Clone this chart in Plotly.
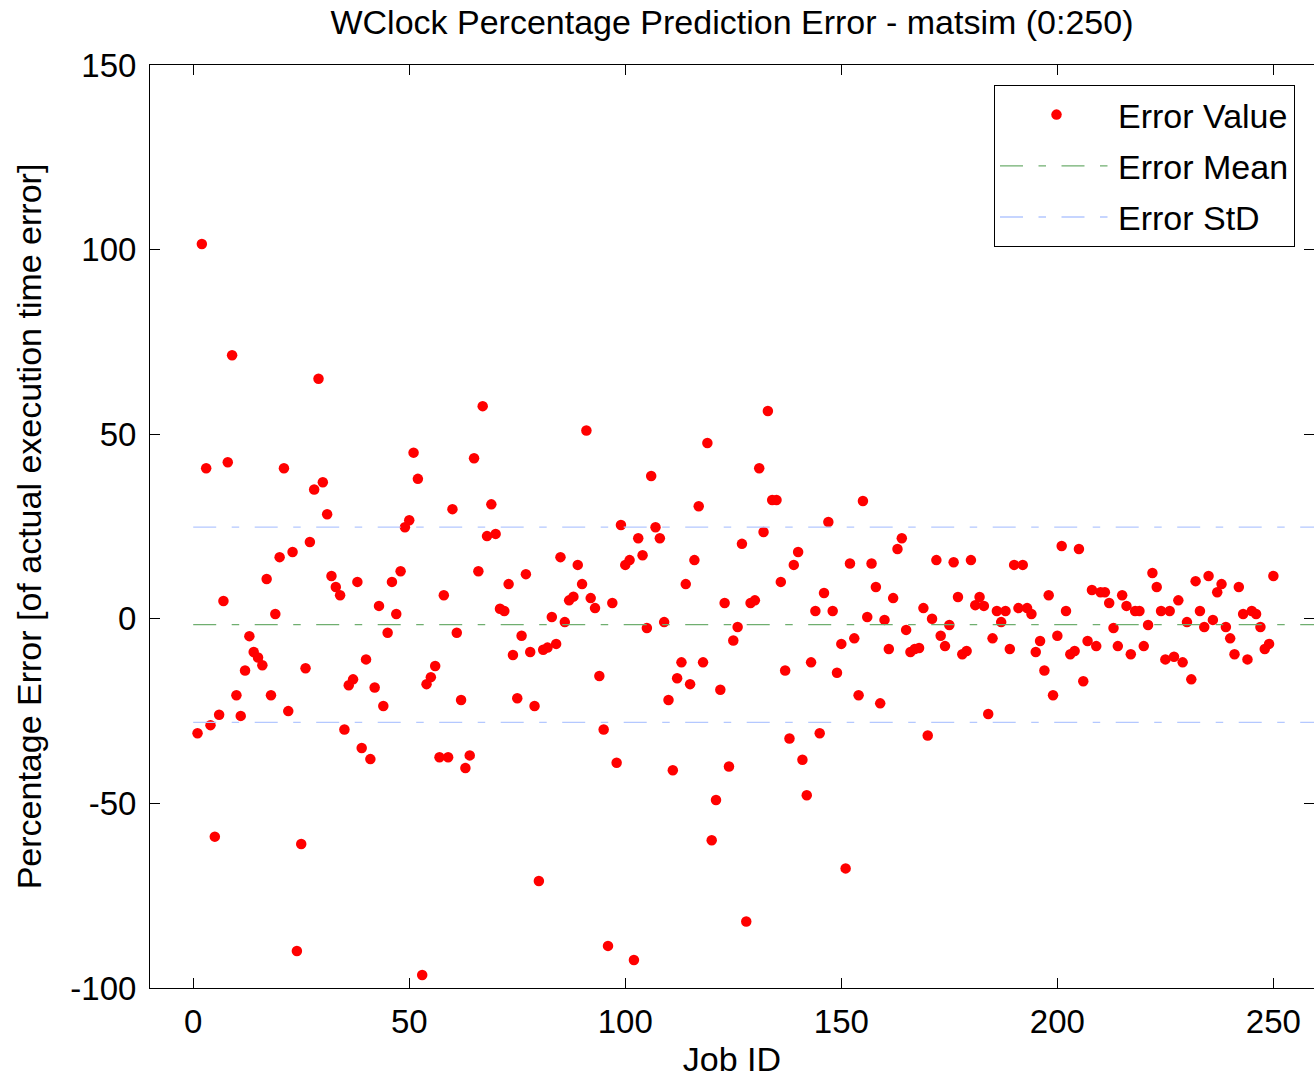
import plotly.graph_objects as go

job_ids = list(range(1, 251))
error_values = [
    -31, 101.5, 40.8, -28.8, -59, -26, 4.8, 42.4, 71.4, -20.7,
    -26.3, -14, -4.7, -9, -10.5, -12.6, 10.8, -20.7, 1.3, 16.7,
    40.8, -25, 18.1, -90, -61, -13.4, 20.8, 35, 65, 37,
    28.3, 11.6, 8.6, 6.4, -30, -18, -16.4, 10, -35, -11,
    -38, -18.6, 3.5, -23.6, -3.8, 10, 1.3, 12.9, 24.8, 26.7,
    45, 37.9, -96.5, -17.7, -15.8, -12.8, -37.5, 6.4, -37.5, 29.7,
    -3.8, -22, -40.4, -37, 43.5, 12.9, 57.6, 22.4, 31, 23,
    2.7, 2.1, 9.4, -9.8, -21.5, -4.6, 12.1, -9, -23.6, -71,
    -8.4, -7.8, 0.5, -6.8, 16.7, -0.9, 5, 6, 14.6, 9.4,
    51, 5.6, 2.9, -15.5, -30, -88.6, 4.3, -39, 25.4, 14.6,
    15.9, -92.4, 21.8, 17.2, -2.5, 38.7, 24.8, 21.8, -0.9, -22,
    -41, -16.1, -11.8, 9.4, -17.7, 15.9, 30.5, -11.8, 47.6, -60,
    -49.1, -19.2, 4.3, -40, -5.9, -2.2, 20.3, -82, 4.3, 5,
    40.8, 23.5, 56.3, 32.2, 32.2, 10, -14, -32.4, 14.6, 18.1,
    -38.2, -47.8, -11.8, 2.1, -31, 7, 26.2, 2.1, -14.6, -6.8,
    -67.6, 15, -5.3, -20.7, 31.9, 0.5, 15, 8.6, -22.9, -0.3,
    -8.2, 5.6, 18.9, 21.8, -3, -9, -8.2, -7.9, 2.9, -31.6,
    0, 15.9, -4.6, -7.4, -1.7, 15.3, 5.9, -9.6, -8.7, 15.9,
    3.7, 5.9, 3.5, -25.8, -5.3, 2.1, -0.9, 2.1, -8.2, 14.6,
    2.9, 14.6, 2.9, 1.3, -9, -6, -14, 6.4, -20.7, -4.6,
    19.7, 2.1, -9.6, -8.7, 18.9, -16.9, -6, 7.8, -7.4, 7.2,
    7.2, 4.3, -2.5, -7.4, 6.4, 3.5, -9.6, 2.1, 2.1, -7.4,
    -1.7, 12.4, 8.6, 2.1, -11, 2.1, -10.3, 5, -11.8, -0.9,
    -16.4, 10.2, 2.1, -2.2, 11.6, -0.3, 7.2, 9.4, -2.2, -5.3,
    -9.6, 8.6, 1.3, -11, 2.1, 1.3, -2.2, -8.2, -6.8, 11.6,
]
error_mean = -1.6
error_std = 26.45
line_x = [0, 260]

x_ticks = [0, 50, 100, 150, 200, 250]
x_tick_labels = ["0", "50", "100", "150", "200", "250"]
y_ticks = [-100, -50, 0, 50, 100, 150]
y_tick_labels = ["-100", "-50", "0", "50", "100", "150"]

FONT = "Liberation Sans, Arial, Helvetica, sans-serif"
DASH = "23px,15.5px,7.5px,15.5px"
FS = 34

fig = go.Figure()
fig.add_trace(go.Scatter(
    x=job_ids, y=error_values, mode="markers", name="Error Value", legendgroup="a",
    marker=dict(color="#ff0000", size=10.5, line=dict(width=0)),
))
fig.add_trace(go.Scatter(
    x=line_x, y=[error_mean] * 2, mode="lines", name="Error Mean", legendgroup="b",
    line=dict(color="#6fae6f", width=1.3, dash=DASH),
))
fig.add_trace(go.Scatter(
    x=line_x, y=[error_mean + error_std] * 2, mode="lines", name="Error StD", legendgroup="c",
    line=dict(color="#b4c8ff", width=1.3, dash=DASH),
))
fig.add_trace(go.Scatter(
    x=line_x, y=[error_mean - error_std] * 2, mode="lines", showlegend=False, legendgroup="c",
    line=dict(color="#b4c8ff", width=1.3, dash=DASH),
))

axis_common = dict(
    showgrid=False, zeroline=False, showline=True, linecolor="black", linewidth=1,
    ticks="inside", ticklen=10, tickcolor="black", mirror="ticks",
    tickfont=dict(family=FONT, size=FS - 1, color="black"),
    tickmode="array",
)

fig.update_layout(
    width=1314, height=1078,
    margin=dict(l=150, r=0, t=65, b=90),
    paper_bgcolor="white", plot_bgcolor="white",
    title=dict(text="WClock Percentage Prediction Error - matsim (0:250)",
               x=0.5, xref="paper", xanchor="center", y=1 - 22 / 1078, yanchor="middle",
               font=dict(family=FONT, size=FS, color="black")),
    xaxis=dict(range=[-10, 259.4], tickvals=x_ticks, ticktext=x_tick_labels,
               title=dict(text="Job ID", font=dict(family=FONT, size=FS, color="black"), standoff=10),
               ticklabelstandoff=4, **axis_common),
    yaxis=dict(range=[-100, 150], tickvals=y_ticks, ticktext=y_tick_labels,
               title=dict(text="Percentage Error [of actual execution time error]",
                          font=dict(family=FONT, size=FS, color="black"), standoff=18),
               ticklabelstandoff=6, **axis_common),
    legend=dict(x=(1295 - 150) / (1314 - 150), xanchor="right",
                y=1 - (85 - 65) / (988 - 65), yanchor="top",
                bordercolor="black", borderwidth=1, bgcolor="white",
                font=dict(family=FONT, size=FS, color="black"),
                itemwidth=113, tracegroupgap=4),
    showlegend=True,
)

fig.write_html("out.html")
